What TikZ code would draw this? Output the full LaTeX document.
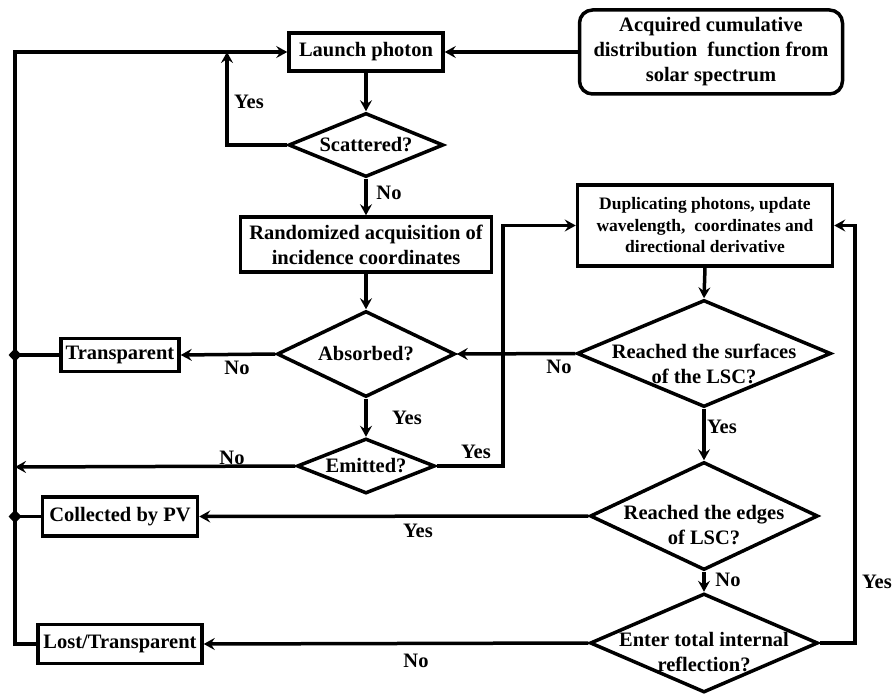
\documentclass[tikz,border=0pt]{standalone}
\usepackage{fontspec}
\setmainfont{Liberation Serif}
\usetikzlibrary{shapes.geometric,arrows.meta}
\begin{document}
\begin{tikzpicture}[x=1pt,y=-1pt,
  lw/.style={line width=3.5pt},
  bfont/.style={font=\bfseries\fontsize{20.5}{25}\selectfont},
  box/.style={draw,lw,rectangle,inner sep=0pt,align=center,bfont},
  dia/.style={draw,lw,diamond,inner sep=0pt},
  txt/.style={inner sep=0pt,align=center,bfont},
  lbl/.style={inner sep=0pt,bfont},
  arr/.style={lw,-{Stealth[length=11pt,width=12pt,inset=4pt]}},
  jdot/.style={diamond,fill=black,inner sep=0pt,minimum width=13pt,minimum height=14pt}
]
\useasboundingbox (0,0) rectangle (895,695);

% nodes
\node[box,minimum width=154pt,minimum height=38pt] (launch) at (366,52) {Launch photon};
\node[box,rounded corners=13pt,minimum width=263pt,minimum height=84pt] (cdf) at (711,52)
  {Acquired cumulative\\distribution\ \ function from\\solar spectrum};
\node[dia,minimum width=155pt,minimum height=64pt] (sc) at (366,145) {};
\node[txt] (sct) at (sc) {Scattered?};
\node[box,minimum width=251pt,minimum height=55pt] (rand) at (366,244.5)
  {Randomized acquisition of\\incidence coordinates};
\node[dia,minimum width=178pt,minimum height=86pt] (ab) at (366,354) {};
\node[txt] (abt) at (ab) {Absorbed?};
\node[box,minimum width=118pt,minimum height=33pt] (transp) at (120,355) {Transparent};
\node[dia,minimum width=138pt,minimum height=55pt] (em) at (366,466) {};
\node[txt] (emt) at (em) {Emitted?};
\node[box,minimum width=255pt,minimum height=81pt,font=\bfseries\fontsize{17.5}{21.5}\selectfont] (dup) at (705,225.5)
  {Duplicating photons, update\\wavelength,\ \ coordinates and\\directional derivative};
\node[dia,minimum width=254pt,minimum height=107pt] (surf) at (704,353.5) {};
\node[txt] (surft) at ([yshift=-10pt]surf.center) {Reached the surfaces\\of the LSC?};
\node[dia,minimum width=228pt,minimum height=108pt] (edge) at (704,516) {};
\node[txt] (edget) at ([yshift=-9pt]edge.center) {Reached the edges\\of LSC?};
\node[box,minimum width=155pt,minimum height=39pt] (coll) at (120,516.5) {Collected by PV};
\node[dia,minimum width=228pt,minimum height=99pt] (tir) at (704,643) {};
\node[txt] (tirt) at ([yshift=-9pt]tir.center) {Enter total internal\\reflection?};
\node[box,minimum width=164pt,minimum height=39pt] (lost) at (120,644) {Lost/Transparent};

% helper coordinates
\coordinate (ltop) at (15,52);
\coordinate (lbot) at (15,644);
\coordinate (yesup) at (227,52);
\coordinate (emx) at (503,300);
\coordinate (rx) at (855,400);
\coordinate (emend) at (15,467);
\node[jdot] (j1) at (15,355) {};
\node[jdot] (j2) at (15,516.5) {};

% connectors
\draw[arr] (cdf.west) -- (launch.east);
\draw[arr] (launch.south) -- (sc.north);
\draw[arr] (sc.west) -| (yesup);
\draw[arr] (lost.west) -- (lbot) -- (ltop) -- (launch.west);
\draw[arr] (sc.south) -- (rand.north);
\draw[arr] (rand.south) -- (ab.north);
\draw[arr] (ab.west) -- (transp.east);
\draw[lw] (transp.west) -- (j1.center);
\draw[arr] (ab.south) -- (em.north);
\draw[arr] (em.west) -- (emend);
\draw[arr] (em.east) -| (emx) |- (dup.west);
\draw[arr] (dup.south) -- (surf.north);
\draw[arr] (surf.west) -- (ab.east);
\draw[arr] (surf.south) -- (edge.north);
\draw[arr] (edge.west) -- (coll.east);
\draw[lw] (coll.west) -- (j2.center);
\draw[arr] (edge.south) -- (tir.north);
\draw[arr] (tir.west) -- (lost.east);
\draw[arr] (tir.east) -| (rx) |- (dup.east);

% labels
\node[lbl] (l1) at (249,102) {Yes};
\node[lbl] (l2) at (389,193) {No};
\node[lbl] (l3) at (237,368) {No};
\node[lbl] (l4) at (407,418) {Yes};
\node[lbl] (l5) at (232,458) {No};
\node[lbl] (l6) at (476,452) {Yes};
\node[lbl] (l7) at (559,367) {No};
\node[lbl] (l8) at (722,427) {Yes};
\node[lbl] (l9) at (418,531) {Yes};
\node[lbl] (l10) at (728,580) {No};
\node[lbl] (l11) at (416,661) {No};
\node[lbl] (l12) at (877,582) {Yes};
\end{tikzpicture}
\end{document}
